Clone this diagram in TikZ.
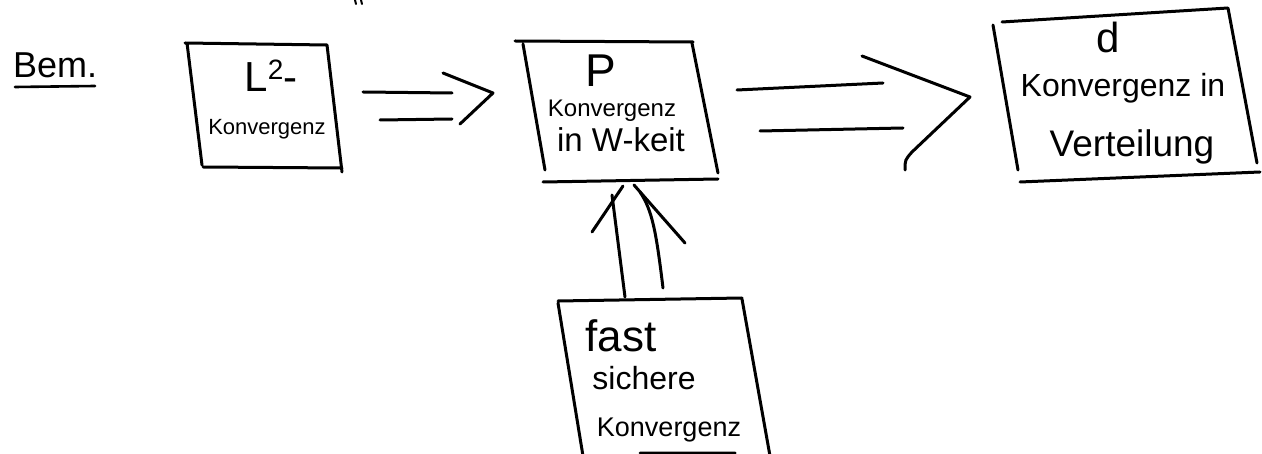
\documentclass[tikz,border=0pt]{standalone}
\usepackage{fontspec}
\setmainfont{Liberation Sans}
\newcommand\fsz[1]{\fontsize{#1}{#1}\selectfont}
\begin{document}
\begin{tikzpicture}[x=1pt,y=-1pt,
  pen/.style={line width=3pt,line cap=round,line join=round},
  lbl/.style={anchor=base,inner sep=0pt,outer sep=0pt}]
\useasboundingbox (0,0) rectangle (1262,454);

% --- heading
\node[lbl,anchor=base west] (bem) at (13,78) {\fsz{36}Bem.};
\coordinate (bemu1) at (15,87); \coordinate (bemu2) at (95,86);
\draw[pen,line width=2.6pt] (bemu1) -- (bemu2);
\draw[pen,line width=2pt] (355,0) -- (356,4) (361,0) -- (362,4);

% --- box L2
\draw[pen] (185,43) -- (327,45) (187,43) -- (202,165) (327,45) -- (342,172) (203,167) -- (342,168);
\node[lbl] (l2t) at (271,92) {\fsz{42}L\raisebox{12pt}{\fsz{28}2}-};
\node[lbl] (l2k) at (267,135) {\fsz{22}Konvergenz};

% --- box P
\draw[pen] (515,41) -- (693,42) (523,44) -- (545,170) (692,43) -- (718,173) (543,182) -- (718,179);
\node[lbl] (pp) at (601,87) {\fsz{46}P};
\node[lbl] (pk) at (612,117) {\fsz{24}Konvergenz};
\node[lbl] (pw) at (621,152) {\fsz{33}in W-keit};

% --- box d
\draw[pen] (1002,22) -- (1228,8) (993,25) -- (1018,170) (1228,8) -- (1257,163) (1020,182) -- (1260,172);
\node[lbl] (dd) at (1108,53) {\fsz{42}d};
\node[lbl] (dk) at (1123,97) {\fsz{32}Konvergenz in};
\node[lbl] (dv) at (1132,157) {\fsz{37}Verteilung};

% --- box fast sichere
\draw[pen] (558,301) -- (742,298) (558,303) -- (583,456) (742,299) -- (770,456) (640,453) -- (735,453);
\node[lbl] (f1) at (621,352) {\fsz{44}fast};
\node[lbl] (f2) at (644,390) {\fsz{32}sichere};
\node[lbl] (f3) at (669,437) {\fsz{27}Konvergenz};

% --- implication arrow L2 => P
\coordinate (a1a) at (363,92);  \coordinate (a1b) at (452,93);
\coordinate (a1c) at (380,120); \coordinate (a1d) at (452,119);
\coordinate (a1t) at (493,93);
\draw[pen] (a1a) -- (a1b) (a1c) -- (a1d);
\draw[pen] (443,73) -- (a1t) -- (460,124);

% --- implication arrow P => d
\coordinate (a2a) at (737,90);  \coordinate (a2b) at (883,83);
\coordinate (a2c) at (760,131); \coordinate (a2d) at (903,128);
\coordinate (a2t) at (970,97);
\draw[pen] (a2a) -- (a2b) (a2c) -- (a2d);
\draw[pen] (862,56) -- (a2t) -- (912,152) .. controls (905,160) .. (905,170);

% --- implication arrow fast => P (upwards)
\coordinate (a3a) at (625,297); \coordinate (a3b) at (612,195);
\coordinate (a3c) at (663,288); \coordinate (a3d) at (640,192);
\draw[pen] (a3a) -- (a3b);
\draw[pen] (a3c) .. controls (656,230) and (652,210) .. (a3d);
\draw[pen] (592,232) -- (623,186);
\draw[pen] (634,185) -- (685,243);
\end{tikzpicture}
\end{document}
